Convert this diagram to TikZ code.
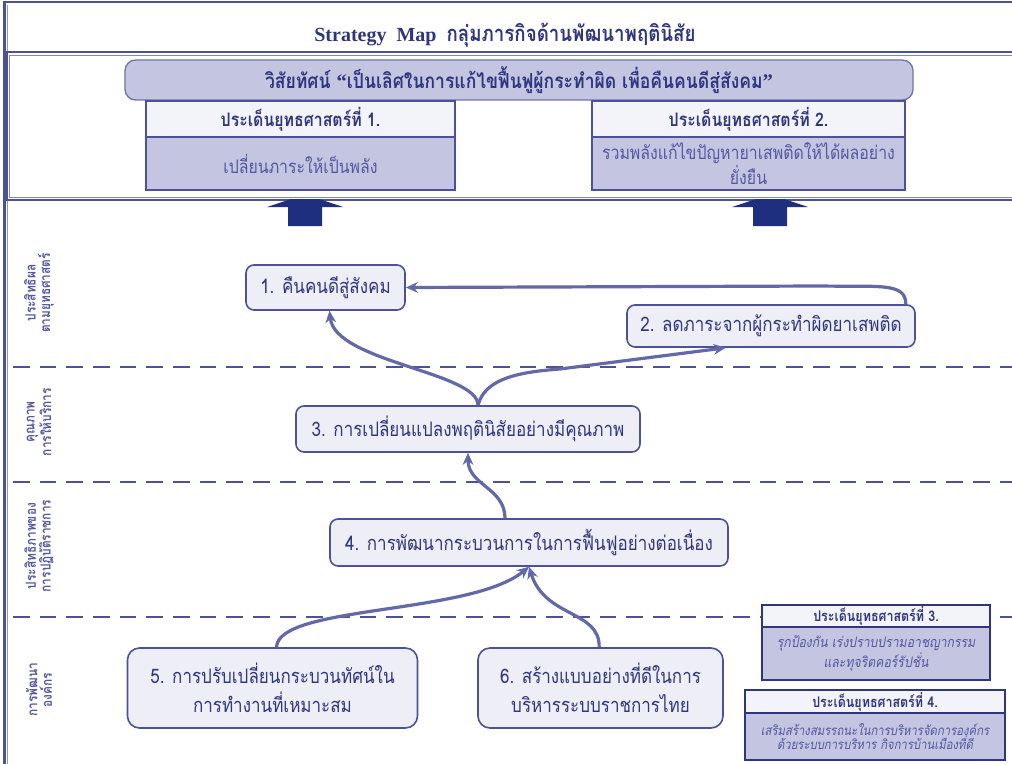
\documentclass[tikz,border=0pt]{standalone}
\usepackage{fontspec}
\setmainfont{Liberation Serif}
\newfontfamily\thai[Script=Thai,FakeStretch=0.85]{Loma}
\usetikzlibrary{arrows.meta,calc}
\definecolor{navy}{HTML}{1F2F80}
\definecolor{frameblue}{HTML}{4C519A}
\definecolor{lav}{HTML}{C4C6E1}
\definecolor{pale}{HTML}{EEEEF7}
\definecolor{hdr}{HTML}{F3F3FA}
\definecolor{linkblue}{HTML}{6468A8}
\definecolor{txtblue}{HTML}{30357F}
\definecolor{softtxt}{HTML}{5358A0}

\begin{document}
\begin{tikzpicture}[x=0.75pt,y=-0.75pt,
  goal/.style={draw=frameblue, line width=1.2pt, fill=pale, rounded corners=6pt,
    text=txtblue, font=\thai\fontsize{15}{22}\selectfont, align=center, inner sep=0pt},
  conn/.style={draw=linkblue, line width=2.4pt, -{Stealth[length=9pt,width=8pt]}},
  band/.style={draw=frameblue, line width=2.2pt, dash pattern=on 12.5pt off 7.5pt},
  lanelabel/.style={rotate=90, text=softtxt, font=\thai\bfseries\fontsize{10.5}{11}\selectfont, align=center},
  issuehead/.style={draw=frameblue, line width=1.5pt, fill=hdr, inner sep=0pt,
    text=txtblue, font=\thai\bfseries\fontsize{14}{15}\selectfont},
  issuebody/.style={draw=frameblue, line width=1.5pt, fill=lav, inner sep=0pt,
    text=softtxt, font=\thai\fontsize{14}{15}\selectfont, align=center},
  smallhead/.style={draw=txtblue, line width=1.6pt, fill=hdr, inner sep=0pt,
    text=txtblue, font=\thai\bfseries\fontsize{11}{12}\selectfont},
  smallbody/.style={draw=txtblue, line width=1.6pt, fill=lav, inner sep=0pt,
    text=softtxt, font=\thai\itshape\fontsize{10}{11}\selectfont, align=center},
  blockarrow/.style={fill=navy},
 ]
\useasboundingbox (0,0) rectangle (1012,763);
\fill[white] (0,0) rectangle (1012,763);
\begin{scope}
\clip (0,0) rectangle (1012,763);

% outer page frame
\draw[frameblue, line width=1.6pt] (4.5,770) -- (4.5,2) -- (1020,2);
\draw[frameblue!60, line width=0.6pt] (7.5,770) -- (7.5,5);

% vision frame
\draw[frameblue, line width=1.8pt] (7,52) rectangle (1030,200);
\draw[frameblue!70, line width=0.6pt] (9.5,55) rectangle (1030,197);

% lane separators
\foreach \yy in {367,482,617}
  \draw[band] (13,\yy) -- (1012,\yy);
\end{scope}

% title
\node[text=txtblue, font=\bfseries\fontsize{15}{17}\selectfont] (title) at (505,35)
  {Strategy\ \ Map\ \ {\thai\fontsize{16.5}{17}\selectfont กลุ่มภารกิจด้านพัฒนาพฤตินิสัย}};

% vision
\node[draw=frameblue!80, line width=1pt, fill=lav, rounded corners=8pt,
  minimum width=591pt, minimum height=30pt, inner sep=0pt, text=txtblue,
  font=\thai\bfseries\fontsize{15.5}{17}\selectfont] (vision) at (519,80)
  {วิสัยทัศน์ {\rmfamily“}เป็นเลิศในการแก้ไขฟื้นฟูผู้กระทำผิด เพื่อคืนคนดีสู่สังคม{\rmfamily”}};

% strategic issues 1 and 2
\node[issuehead, minimum width=231.75pt, minimum height=27pt] (h1) at (300.5,119)
  {ประเด็นยุทธศาสตร์ที่ 1.};
\node[issuebody, minimum width=231.75pt, minimum height=39.75pt] (b1) at (300.5,163.5)
  {เปลี่ยนภาระให้เป็นพลัง};
\node[issuehead, minimum width=234.75pt, minimum height=27pt] (h2) at (748.5,119)
  {ประเด็นยุทธศาสตร์ที่ 2.};
\node[issuebody, minimum width=234.75pt, minimum height=39.75pt] (b2) at (748.5,163.5)
  {รวมพลังแก้ไขปัญหายาเสพติดให้ได้ผลอย่าง\\ยั่งยืน};

% block arrows under the vision frame
\foreach \cx in {305,770}
  \fill[blockarrow] (\cx-17,226) -- (\cx-17,207) -- (\cx-38,207) -- (\cx-14,199)
    -- (\cx+14,199) -- (\cx+38,207) -- (\cx+17,207) -- (\cx+17,226) -- cycle;

% lane labels
\node[lanelabel] (lane1) at (39,293) {ประสิทธิผล\\ตามยุทธศาสตร์};
\node[lanelabel] (lane2) at (39,422) {คุณภาพ\\การให้บริการ};
\node[lanelabel] (lane3) at (39,546) {ประสิทธิภาพของ\\การปฏิบัติราชการ};
\node[lanelabel] (lane4) at (39,690) {การพัฒนา\\องค์กร};

% objectives
\node[goal, minimum width=119.25pt, minimum height=33.75pt] (n1) at (325.5,287.5)
  {1. คืนคนดีสู่สังคม};
\node[goal, minimum width=216pt, minimum height=31.5pt] (n2) at (771,326)
  {2. ลดภาระจากผู้กระทำผิดยาเสพติด};
\node[goal, minimum width=258pt, minimum height=34.5pt] (n3) at (468,429)
  {3. การเปลี่ยนแปลงพฤตินิสัยอย่างมีคุณภาพ};
\node[goal, minimum width=298.5pt, minimum height=35.25pt] (n4) at (529,542.5)
  {4. การพัฒนากระบวนการในการฟื้นฟูอย่างต่อเนื่อง};
\node[goal, rounded corners=9pt, minimum width=217.5pt, minimum height=60pt] (n5) at (272.5,688)
  {5. การปรับเปลี่ยนกระบวนทัศน์ใน\\การทำงานที่เหมาะสม};
\node[goal, rounded corners=9pt, minimum width=183.75pt, minimum height=60pt] (n6) at (600.5,688)
  {6. สร้างแบบอย่างที่ดีในการ\\บริหารระบบราชการไทย};

% strategic issues 3 and 4
\node[smallhead, minimum width=171pt, minimum height=16.5pt] (h3) at (876,616)
  {ประเด็นยุทธศาสตร์ที่ 3.};
\node[smallbody, font=\thai\itshape\fontsize{10.8}{11.5}\selectfont,
  minimum width=171pt, minimum height=39.75pt] (b3) at (876,653.5)
  {รุกป้องกัน เร่งปราบปรามอาชญากรรม\\และทุจริตคอร์รัปชั่น};
\node[smallhead, minimum width=195pt, minimum height=17.25pt] (h4) at (875,701.5)
  {ประเด็นยุทธศาสตร์ที่ 4.};
\node[smallbody, minimum width=195pt, minimum height=35.25pt] (b4) at (875,736.5)
  {เสริมสร้างสมรรถนะในการบริหารจัดการองค์กร\\ด้วยระบบการบริหาร กิจการบ้านเมืองที่ดี};

% cause-and-effect links
\draw[conn] ([xshift=-7.5pt]n2.north east) .. controls +(0,-22) and (880,287) .. (820,286) -- (n1.east);
\draw[conn] ([xshift=7.5pt]n3.north) .. controls (478,372) and (335,362) .. ([xshift=3pt]n1.south);
\draw[conn] ([xshift=7.5pt]n3.north) .. controls (485,378) and (520,372) .. (560,369) -- ([xshift=-34pt]n2.south);
\draw[conn] ([xshift=-18pt]n4.north) .. controls (505,488) and (468,485) .. (n3.south);
\draw[conn] ([xshift=3pt]n5.north) .. controls (278,605) and (470,615) .. (n4.south);
\draw[conn] ([xshift=-1pt]n6.north) .. controls (600,610) and (545,618) .. (n4.south);
\end{tikzpicture}
\end{document}
